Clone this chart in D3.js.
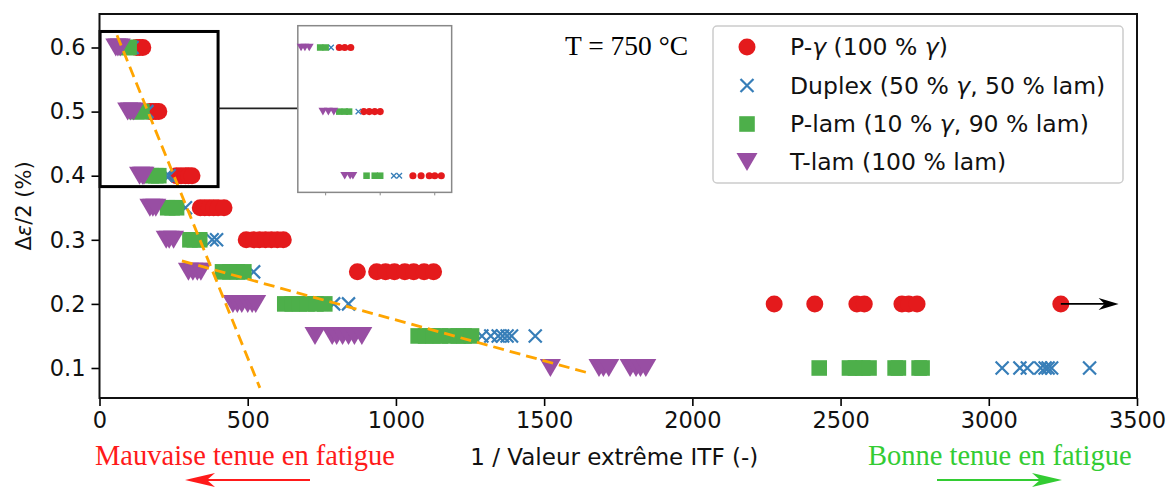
<!DOCTYPE html>
<html><head><meta charset="utf-8">
<script src="https://cdn.jsdelivr.net/npm/d3@7"></script>
<style>body{margin:0;background:#fff}svg{display:block}</style>
</head><body>
<svg id="c" width="1172" height="487"></svg>
<script>
// ---------------- data ----------------
const levels = [0.6, 0.5, 0.4, 0.35, 0.3, 0.25, 0.2, 0.15, 0.1];
const pGammaX = [[125,135,146],[170,180,190,200],[260,275,290,300,312],[340,355,370,385,400,420],[495,520,540,560,580,600,620],[870,935,965,995,1030,1060,1095,1127],[2276,2413,2555,2580,2707,2730,2758,3243],[],[]];
const duplexX = [[110],[160],[225,235],[290],[380,395],[520],[790,840],[1290,1320,1345,1360,1375,1390,1470],[3045,3105,3130,3175,3190,3200,3212,3340]];
const pLamX = [[90,100],[125,135,143],[175,190,200],[230,245,260],[305,320,338],[415,440,465,487],[625,650,675,700,730,760],[1075,1100,1125,1150,1180,1210,1230,1255],[2428,2530,2550,2575,2596,2684,2695,2765,2775]];
const tLamX = [[55,62,70],[95,105,115],[135,145,150],[170,180,190],[225,235,250],[300,315,330,342],[450,465,480,500,515,527],[727,785,800,820,840,860,885],[1521,1685,1700,1718,1790,1810,1825,1843]];
// legend labels split into [text, italic?] pieces
const seriesNames = [
  [["P-",0],["\u03B3",1],[" (100 % ",0],["\u03B3",1],[")",0]],
  [["Duplex (50 % ",0],["\u03B3",1],[", 50 % lam)",0]],
  [["P-lam (10 % ",0],["\u03B3",1],[", 90 % lam)",0]],
  [["T-lam (100 % lam)",0]]
];
const seriesColors = ["#e41a1c", "#377eb8", "#4daf4a", "#984ea3"];
const seriesShapes = ["circle", "x", "square", "tri"];
const xTicks = [0, 500, 1000, 1500, 2000, 2500, 3000, 3500];
const yTicks = [0.1, 0.2, 0.3, 0.4, 0.5, 0.6];
const trend1 = [[59, 0.619], [541, 0.069]];
const trend2 = [[278, 0.267], [1659, 0.091]];
const zoomBox = {x0: 2, x1: 400, y0: 0.383, y1: 0.625};
const insetBox = {x0: 669, x1: 1188, y0: 0.374, y1: 0.634};
const insetXDomain = [49, 331];
const insetTicks = [100, 200, 300];
const arrowEnd = 3438;

// ---------------- layout ----------------
const svg = d3.select("#c");
const L = 99.5, R = 1137, T = 14, B = 398;
const x = d3.scaleLinear().domain([0, 3500]).range([L, R]);
const y = d3.scaleLinear().domain([0.1, 0.6]).range([368, 47.5]);

const allSeries = [pGammaX, duplexX, pLamX, tLamX];
function pts(arr){ const out=[]; arr.forEach((xs,i)=>xs.forEach(v=>out.push([v, levels[i]]))); return out; }

function markerPath(shape, s){
  if (shape==="circle"){ const r=8.5*s; return `M${-r},0A${r},${r} 0 1,0 ${r},0A${r},${r} 0 1,0 ${-r},0Z`; }
  if (shape==="square"){ const h=7.8*s; return `M${-h},${-h}H${h}V${h}H${-h}Z`; }
  if (shape==="tri"){ const w=10.5*s, h=9*s; return `M${-w},${-h}L${w},${-h}L0,${h}Z`; }
  if (shape==="x"){ const h=6.5*s; return `M${-h},${-h}L${h},${h}M${-h},${h}L${h},${-h}`; }
}
function drawMarks(g, data, shape, color, sx, sy, s){
  g.selectAll(null).data(data).enter().append("path")
    .attr("transform", d=>`translate(${sx(d[0])},${sy(d[1])})`)
    .attr("d", markerPath(shape, s))
    .attr("fill", shape==="x" ? "none" : color)
    .attr("stroke", shape==="x" ? color : "none")
    .attr("stroke-width", shape==="x" ? 2.2*Math.max(s,0.6) : 0);
}

// data markers
const gm = svg.append("g");
allSeries.forEach((arr,i)=>drawMarks(gm, pts(arr), seriesShapes[i], seriesColors[i], x, y, 1));

// black arrow at far right (P-gamma run-out)
const lastRed = pGammaX[6][pGammaX[6].length-1];
const ay = y(0.2);
svg.append("line").attr("x1", x(lastRed)).attr("x2", x(arrowEnd)-10).attr("y1", ay).attr("y2", ay)
  .attr("stroke", "#000").attr("stroke-width", 1.6);
svg.append("path").attr("d", `M${x(arrowEnd)},${ay}L${x(arrowEnd)-20},${ay-6}L${x(arrowEnd)-14},${ay}L${x(arrowEnd)-20},${ay+6}Z`).attr("fill","#000");

// trend lines
[trend1, trend2].forEach(t=>{
  svg.append("line").attr("x1", x(t[0][0])).attr("y1", y(t[0][1])).attr("x2", x(t[1][0])).attr("y2", y(t[1][1]))
    .attr("stroke", "#ffa500").attr("stroke-width", 2.8).attr("stroke-dasharray", "11,6");
});

// zoom rectangle + connector
svg.append("rect").attr("x", x(zoomBox.x0)).attr("y", y(zoomBox.y1))
  .attr("width", x(zoomBox.x1)-x(zoomBox.x0)).attr("height", y(zoomBox.y0)-y(zoomBox.y1))
  .attr("fill","none").attr("stroke","#000").attr("stroke-width",3);
const cy = y(0.505);
svg.append("line").attr("x1", x(zoomBox.x1)).attr("x2", x(insetBox.x0)).attr("y1", cy).attr("y2", cy)
  .attr("stroke","#222").attr("stroke-width",1.6);

// inset
const ix = d3.scaleLinear().domain(insetXDomain).range([x(insetBox.x0), x(insetBox.x1)]);
const iy = d3.scaleLinear().domain([insetBox.y0, insetBox.y1]).range([y(insetBox.y0), y(insetBox.y1)]);
const gi = svg.append("g");
gi.append("rect").attr("x", x(insetBox.x0)).attr("y", y(insetBox.y1))
  .attr("width", x(insetBox.x1)-x(insetBox.x0)).attr("height", y(insetBox.y0)-y(insetBox.y1))
  .attr("fill","#fff").attr("stroke","#888").attr("stroke-width",1.5);
allSeries.forEach((arr,i)=>{
  const d = pts(arr.slice(0,3));
  drawMarks(gi, d, seriesShapes[i], seriesColors[i], ix, iy, 0.42);
});
gi.selectAll(null).data(insetTicks).enter().append("line")
  .attr("x1", d=>ix(d)).attr("x2", d=>ix(d)).attr("y1", y(insetBox.y0)).attr("y2", y(insetBox.y0)+3)
  .attr("stroke","#888").attr("stroke-width",1);

// axes
const font = "DejaVu Sans";
const xa = svg.append("g").attr("transform", `translate(0,${B})`)
  .call(d3.axisBottom(x).tickValues(xTicks).tickSize(8).tickPadding(6).tickFormat(d3.format("d")));
const ya = svg.append("g").attr("transform", `translate(${L},0)`)
  .call(d3.axisLeft(y).tickValues(yTicks).tickSize(8).tickPadding(6).tickFormat(d3.format(".1f")));
[xa, ya].forEach(a=>{
  a.select(".domain").remove();
  a.selectAll("line").attr("stroke","#000").attr("stroke-width",1.6);
  a.selectAll("text").attr("font-family", font).attr("font-size", 22.5).attr("fill","#111");
});
// frame
svg.append("rect").attr("x", L).attr("y", T).attr("width", R-L).attr("height", B-T)
  .attr("fill","none").attr("stroke","#111").attr("stroke-width",2);

// axis labels
svg.append("text").attr("x", (L+R)/2 - 4).attr("y", 465).attr("text-anchor","middle")
  .attr("font-family", font).attr("font-size", 23).attr("fill","#111").text("1 / Valeur extrême ITF (-)");
const yl = svg.append("text").attr("transform", `translate(31,${(T+B)/2}) rotate(-90)`).attr("text-anchor","middle")
  .attr("font-family", font).attr("font-size", 21).attr("fill","#111");
yl.append("tspan").text("\u0394");
yl.append("tspan").attr("font-style","italic").text("\u03B5");
yl.append("tspan").text("/2 (%)");

// temperature
svg.append("text").attr("x", 565).attr("y", 55).attr("font-family","Liberation Serif").attr("font-size", 27.5)
  .attr("fill","#000").text("T = 750 °C");

// legend
const lg = svg.append("g");
lg.append("rect").attr("x", 713).attr("y", 26).attr("width", 410).attr("height", 157).attr("rx", 4)
  .attr("fill","#fff").attr("fill-opacity",0.85).attr("stroke","#ccc").attr("stroke-width",1.5);
const legY = [47, 85.5, 124, 162];
seriesNames.forEach((parts,i)=>{
  drawMarks(lg, [[0,0]], seriesShapes[i], seriesColors[i], ()=>747, ()=>legY[i], 1);
  const t = lg.append("text").attr("x", 790).attr("y", legY[i]+8).attr("font-family", font).attr("font-size", 23.5)
    .attr("fill","#111");
  parts.forEach(p=>t.append("tspan").attr("font-style", p[1] ? "italic" : "normal").text(p[0]));
});

// bottom annotations
svg.append("text").attr("x", 95).attr("y", 465).attr("font-family","Liberation Serif").attr("font-size", 28.5)
  .attr("fill","#ff1a1a").text("Mauvaise tenue en fatigue");
svg.append("text").attr("x", 868).attr("y", 465).attr("font-family","Liberation Serif").attr("font-size", 28.5)
  .attr("fill","#33cc33").text("Bonne tenue en fatigue");
function bigArrow(x1, x2, yy, col){
  const dir = Math.sign(x2-x1);
  svg.append("line").attr("x1", x1).attr("x2", x2 - dir*20).attr("y1", yy).attr("y2", yy).attr("stroke", col).attr("stroke-width", 2.2);
  svg.append("path").attr("d", `M${x2},${yy}L${x2-dir*30},${yy-7}L${x2-dir*22},${yy}L${x2-dir*30},${yy+7}Z`).attr("fill", col);
}
bigArrow(310, 185, 480, "#ff1a1a");
bigArrow(937, 1062, 480, "#33cc33");
</script>
</body></html>
